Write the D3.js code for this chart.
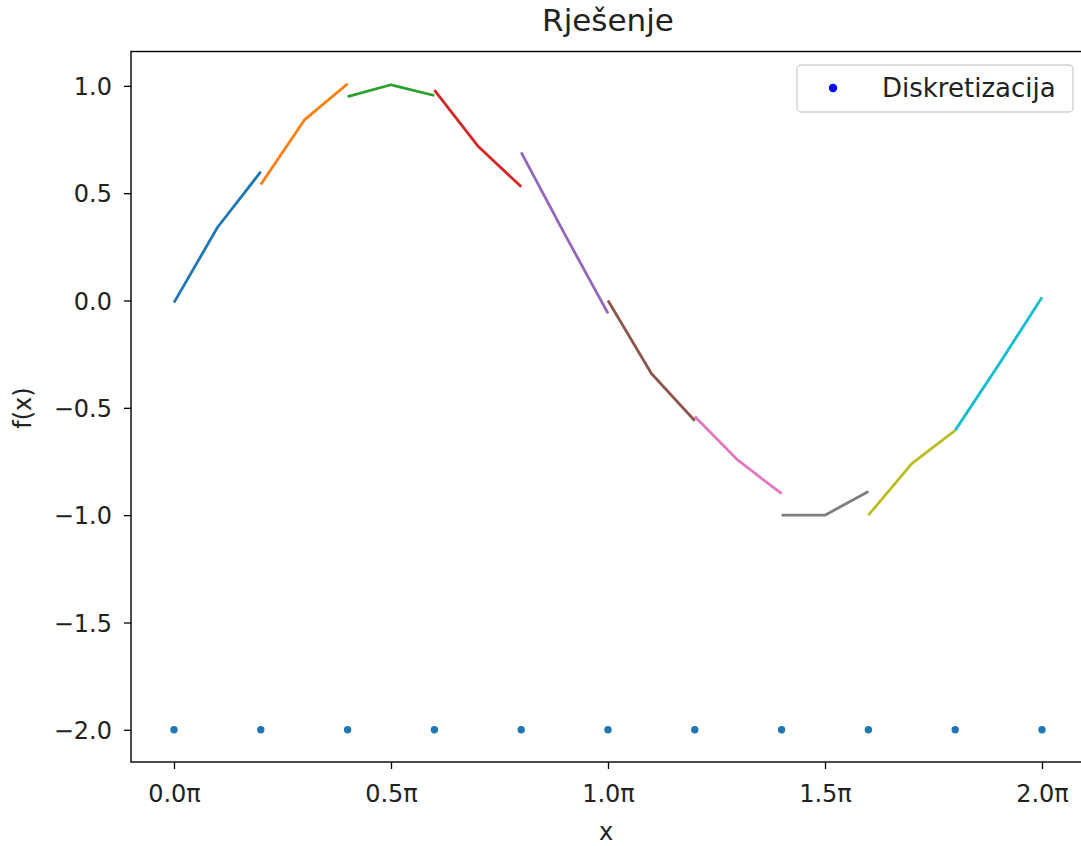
<!DOCTYPE html>
<html>
<head>
<meta charset="utf-8">
<script src="https://cdn.jsdelivr.net/npm/d3@7"></script>
<style>
  body { margin: 0; background: #fff; }
  svg { display: block; font-family: "DejaVu Sans", sans-serif; }
</style>
</head>
<body>
<svg width="1081" height="846"></svg>
<script>
// x positions are in units of pi
const segX = [
  [0.0, 0.1, 0.2], [0.2, 0.3, 0.4], [0.4, 0.5, 0.6], [0.6, 0.7, 0.8], [0.8, 0.9, 1.0],
  [1.0, 1.1, 1.2], [1.2, 1.3, 1.4], [1.4, 1.5, 1.6], [1.6, 1.7, 1.8], [1.8, 1.9, 2.0]
];
const segY = [
  [-0.01, 0.34, 0.60],
  [0.54, 0.84, 1.01],
  [0.95, 1.005, 0.955],
  [0.98, 0.72, 0.53],
  [0.69, 0.31, -0.06],
  [0.00, -0.34, -0.56],
  [-0.54, -0.745, -0.90],
  [-1.00, -1.00, -0.89],
  [-1.00, -0.76, -0.605],
  [-0.605, -0.30, 0.015]
];
const nodeX = [0.0, 0.2, 0.4, 0.6, 0.8, 1.0, 1.2, 1.4, 1.6, 1.8, 2.0];
const nodeY = [-2, -2, -2, -2, -2, -2, -2, -2, -2, -2, -2];
const colors = ['#1f77b4', '#ff7f0e', '#2ca02c', '#d62728', '#9467bd',
                '#8c564b', '#e377c2', '#7f7f7f', '#bcbd22', '#17becf'];
const xTicks = [0, 0.5, 1.0, 1.5, 2.0];
const yTicks = [1.0, 0.5, 0.0, -0.5, -1.0, -1.5, -2.0];

const margin = { left: 131, top: 51.5, right: 1085.4, bottom: 762 };

const svg = d3.select('svg');

const x = d3.scaleLinear().domain([-0.1, 2.1]).range([margin.left - 0.4, margin.right]);
const y = d3.scaleLinear().domain([-2.15, 1.16]).range([margin.bottom, margin.top]);

const fmt = d => d3.format('.1f')(d).replace('-', '\u2212');

// lines
const line = d3.line().x(d => x(d[0])).y(d => y(d[1]));
segY.forEach((ys, i) => {
  svg.append('path')
    .datum(ys.map((v, j) => [segX[i][j], v]))
    .attr('d', line)
    .attr('fill', 'none')
    .attr('stroke', colors[i])
    .attr('stroke-width', 2.8)
    .attr('stroke-linejoin', 'round')
    .attr('stroke-linecap', 'butt');
});

// discretisation points
svg.selectAll('.node')
  .data(nodeX)
  .enter()
  .append('circle')
  .attr('class', 'node')
  .attr('cx', d => x(d))
  .attr('cy', (d, i) => y(nodeY[i]))
  .attr('r', 3.7)
  .attr('fill', '#1f77b4');

// frame
svg.append('rect')
  .attr('x', margin.left)
  .attr('y', margin.top)
  .attr('width', margin.right - margin.left)
  .attr('height', margin.bottom - margin.top)
  .attr('fill', 'none')
  .attr('stroke', '#000')
  .attr('stroke-width', 1.4);

// axes
const xAxis = svg.append('g')
  .attr('transform', `translate(0,${margin.bottom})`)
  .call(d3.axisBottom(x).tickValues(xTicks).tickSize(7).tickFormat(d => fmt(d) + 'π'));
const yAxis = svg.append('g')
  .attr('transform', `translate(${margin.left},0)`)
  .call(d3.axisLeft(y).tickValues(yTicks).tickSize(7).tickFormat(fmt));

[xAxis, yAxis].forEach(g => {
  g.select('.domain').remove();
  g.selectAll('line').attr('stroke', '#000').attr('stroke-width', 1.3);
  g.selectAll('text')
    .attr('font-family', '"DejaVu Sans", sans-serif')
    .attr('font-size', 24)
    .attr('fill', '#222');
});
xAxis.selectAll('text').attr('dy', 0).attr('y', 40);
yAxis.selectAll('text').attr('dy', '0.36em').attr('x', -19);

// labels
svg.append('text')
  .attr('x', 606).attr('y', 840)
  .attr('text-anchor', 'middle')
  .attr('font-size', 24)
  .attr('fill', '#222')
  .text('x');

svg.append('text')
  .attr('transform', 'translate(31,408) rotate(-90)')
  .attr('text-anchor', 'middle')
  .attr('font-size', 24)
  .attr('fill', '#222')
  .text('f(x)');

svg.append('text')
  .attr('x', 608).attr('y', 31)
  .attr('text-anchor', 'middle')
  .attr('font-size', 31)
  .attr('fill', '#222')
  .text('Rješenje');

// legend
const legend = svg.append('g');
legend.append('rect')
  .attr('x', 797).attr('y', 65)
  .attr('width', 276).attr('height', 47)
  .attr('rx', 4)
  .attr('fill', 'rgba(255,255,255,0.8)')
  .attr('stroke', '#d0d0d0')
  .attr('stroke-width', 1.3);
legend.append('circle')
  .attr('cx', 833).attr('cy', 88)
  .attr('r', 4.2)
  .attr('fill', '#0000ff');
legend.append('text')
  .attr('x', 882).attr('y', 97)
  .attr('font-size', 26)
  .attr('fill', '#222')
  .text('Diskretizacija');
</script>
</body>
</html>
